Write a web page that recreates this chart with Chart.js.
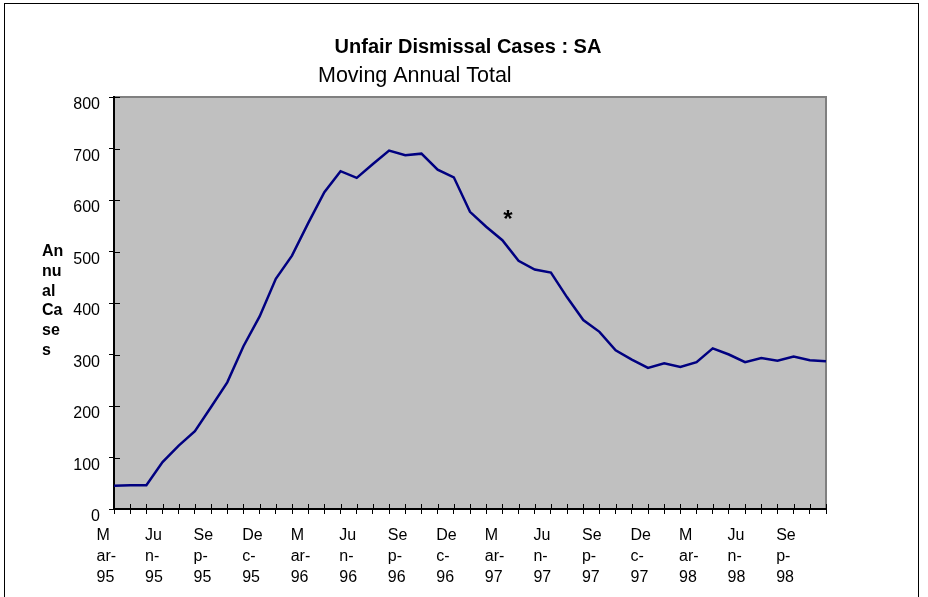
<!DOCTYPE html>
<html>
<head>
<meta charset="utf-8">
<script src="https://cdn.jsdelivr.net/npm/chart.js@4/dist/chart.umd.min.js"></script>
<style>
  html, body { margin: 0; padding: 0; background: #fff; }
  #wrap { width: 928px; height: 597px; }
</style>
</head>
<body>
<div id="wrap"><canvas id="c" width="928" height="597"></canvas></div>
<script>
// ---- data ----
const chartTitle = 'Unfair Dismissal Cases : SA';
const chartSubtitle = 'Moving Annual Total';
const yAxisTitleLines = ['An', 'nu', 'al', 'Ca', 'se', 's'];

const months = [
  'Mar-95','Apr-95','May-95','Jun-95','Jul-95','Aug-95','Sep-95','Oct-95','Nov-95','Dec-95','Jan-96','Feb-96',
  'Mar-96','Apr-96','May-96','Jun-96','Jul-96','Aug-96','Sep-96','Oct-96','Nov-96','Dec-96','Jan-97','Feb-97',
  'Mar-97','Apr-97','May-97','Jun-97','Jul-97','Aug-97','Sep-97','Oct-97','Nov-97','Dec-97','Jan-98','Feb-98',
  'Mar-98','Apr-98','May-98','Jun-98','Jul-98','Aug-98','Sep-98','Oct-98','Nov-98'
];

const annualCases = [
  45, 46, 46, 91, 123, 151, 198, 246, 316, 374, 447, 492,
  555, 615, 656, 643, 670, 696, 687, 690, 659, 644, 577, 548,
  522, 482, 465, 459, 411, 367, 344, 308, 290, 274, 283, 276,
  285, 312, 300, 285, 293, 288, 296, 289, 287
];

// wrapped quarterly tick labels (as shown in the original)
const quarterTickLabels = [
  ['M','ar-','95'], ['Ju','n-','95'], ['Se','p-','95'], ['De','c-','95'],
  ['M','ar-','96'], ['Ju','n-','96'], ['Se','p-','96'], ['De','c-','96'],
  ['M','ar-','97'], ['Ju','n-','97'], ['Se','p-','97'], ['De','c-','97'],
  ['M','ar-','98'], ['Ju','n-','98'], ['Se','p-','98']
];

const yTicks = [0, 100, 200, 300, 400, 500, 600, 700, 800];

// asterisk annotation: category position and value
const asteriskText = '*';
const asteriskCategory = 24.35;
const asteriskValue = 569;

// ---- styling ----
const FONT = "'Liberation Sans', Arial, sans-serif";

const decorPlugin = {
  id: 'decor',
  beforeDraw(chart) {
    const ctx = chart.ctx;
    const a = chart.chartArea;
    ctx.save();
    ctx.fillStyle = '#ffffff';
    ctx.fillRect(0, 0, chart.width, chart.height);
    // outer frame
    ctx.strokeStyle = '#000000';
    ctx.lineWidth = 1;
    ctx.strokeRect(4.5, 3.5, 914, 610);
    // plot area fill
    ctx.fillStyle = '#c0c0c0';
    ctx.fillRect(a.left, a.top, a.right - a.left, a.bottom - a.top);
    // top/right gray frame
    ctx.strokeStyle = '#808080';
    ctx.lineWidth = 2;
    ctx.beginPath();
    ctx.moveTo(a.left, a.top);
    ctx.lineTo(a.right, a.top);
    ctx.lineTo(a.right, a.bottom);
    ctx.stroke();
    ctx.restore();
  },
  afterDraw(chart) {
    const ctx = chart.ctx;
    const a = chart.chartArea;
    const xs = chart.scales.x, ys = chart.scales.y;
    ctx.save();
    // inner half of the cross tick marks
    ctx.strokeStyle = '#000';
    ctx.lineWidth = 1;
    ctx.beginPath();
    xs.ticks.forEach((t, i) => {
      const x = Math.round(xs.getPixelForTick(i)) + 0.5;
      ctx.moveTo(x, a.bottom);
      ctx.lineTo(x, a.bottom - 5);
    });
    ys.ticks.forEach((t, i) => {
      const y = Math.round(ys.getPixelForTick(i)) + 0.5;
      ctx.moveTo(a.left, y);
      ctx.lineTo(a.left + 6, y);
    });
    ctx.stroke();

    ctx.fillStyle = '#000';
    // titles
    ctx.textBaseline = 'alphabetic';
    ctx.textAlign = 'center';
    ctx.font = 'bold 20px ' + FONT;
    ctx.fillText(chartTitle, 468, 53);
    ctx.font = '21.5px ' + FONT;
    ctx.textAlign = 'left';
    ctx.fillText(chartSubtitle, 318, 82);
    // y axis title (wrapped, horizontal)
    ctx.font = 'bold 16px ' + FONT;
    ctx.textAlign = 'left';
    yAxisTitleLines.forEach((s, i) => ctx.fillText(s, 42, 256 + i * 19.8));
    // asterisk
    const px = xs.getPixelForValue(asteriskCategory);
    const py = ys.getPixelForValue(asteriskValue);
    ctx.font = 'bold 24px ' + FONT;
    ctx.textAlign = 'center';
    ctx.fillText(asteriskText, px, py + 11);
    ctx.restore();
  }
};

new Chart(document.getElementById('c'), {
  type: 'line',
  data: {
    labels: months,
    datasets: [{
      data: annualCases,
      borderColor: '#000080',
      borderWidth: 2.5,
      pointRadius: 0,
      tension: 0,
      fill: false
    }]
  },
  options: {
    responsive: false,
    animation: false,
    devicePixelRatio: 1,
    layout: { padding: { top: 97, right: 102, left: 0, bottom: 0 } },
    plugins: { legend: { display: false }, title: { display: false }, tooltip: { enabled: false } },
    scales: {
      x: {
        type: 'category',
        offset: false,
        afterFit(s) { s.height = 88; },
        grid: { display: true, drawOnChartArea: false, drawTicks: true, tickLength: 5, tickColor: '#000', tickWidth: 1 },
        border: { display: true, color: '#000', width: 2 },
        ticks: {
          autoSkip: false,
          maxRotation: 0,
          minRotation: 0,
          align: 'start',
          labelOffset: -17.5,
          padding: 11,
          color: '#000',
          font: { family: FONT, size: 16, lineHeight: 1.31 },
          callback(v, i) { return i % 3 === 0 ? quarterTickLabels[i / 3] : ''; }
        }
      },
      y: {
        min: yTicks[0],
        max: yTicks[yTicks.length - 1],
        afterFit(s) { s.width = 114; },
        afterBuildTicks(s) { s.ticks = yTicks.map(v => ({ value: v })); },
        grid: { display: true, drawOnChartArea: false, drawTicks: true, tickLength: 5, tickColor: '#000', tickWidth: 1 },
        border: { display: true, color: '#000', width: 2 },
        ticks: {
          labelOffset: 8,
          padding: 9,
          color: '#000',
          font: { family: FONT, size: 16 }
        }
      }
    }
  },
  plugins: [decorPlugin]
});
</script>
</body>
</html>
